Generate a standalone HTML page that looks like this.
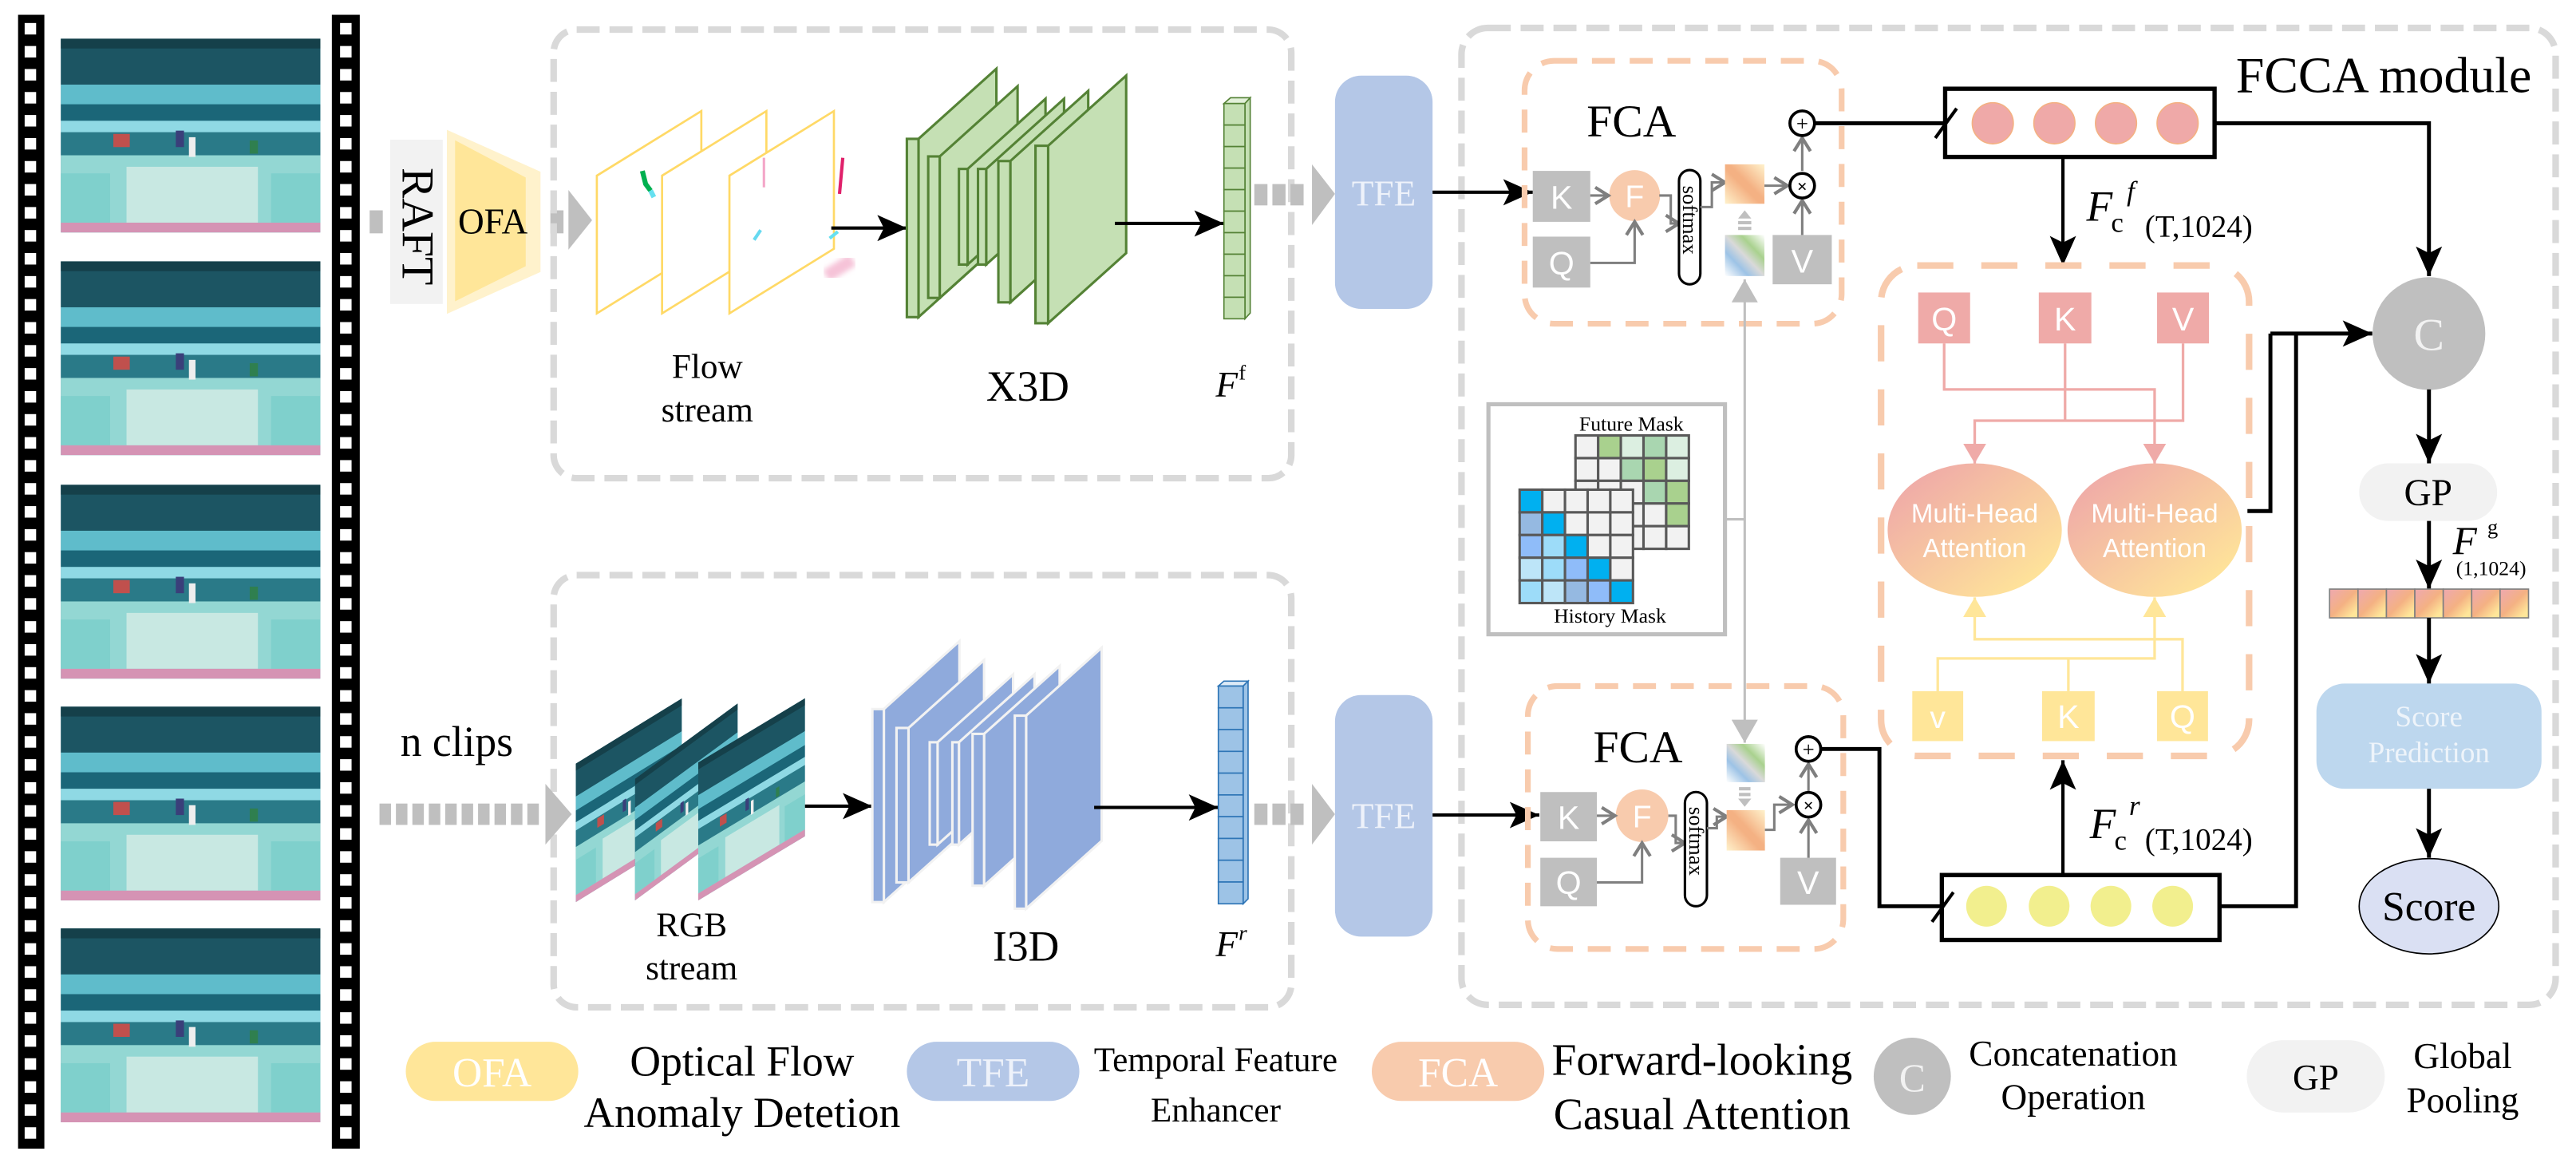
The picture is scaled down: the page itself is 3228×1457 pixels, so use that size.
<!DOCTYPE html>
<html><head><meta charset="utf-8"><style>
html,body{margin:0;padding:0;background:#fff;}
svg{display:block;}
</style></head><body>
<svg width="3228" height="1457" viewBox="0 0 1568 707.75" preserveAspectRatio="none" xmlns="http://www.w3.org/2000/svg" font-family="'Liberation Serif', 'DejaVu Serif', serif">
<defs>
<marker id="ab" markerUnits="userSpaceOnUse" markerWidth="20" markerHeight="20" viewBox="0 0 20 20" refX="18" refY="10" orient="auto"><path d="M0,2 L18,10 L0,18 L4,10 Z" fill="#000"/></marker>
<marker id="ag" markerUnits="userSpaceOnUse" markerWidth="12" markerHeight="12" viewBox="0 0 12 12" refX="10" refY="6" orient="auto"><path d="M2,1 L10,6 L2,11" fill="none" stroke="#7f7f7f" stroke-width="2"/></marker>
<marker id="alg" markerUnits="userSpaceOnUse" markerWidth="16" markerHeight="16" viewBox="0 0 16 16" refX="14" refY="8" orient="auto"><path d="M0,0 L14,8 L0,16 Z" fill="#bfbfbf"/></marker>
<marker id="ap" markerUnits="userSpaceOnUse" markerWidth="14" markerHeight="14" viewBox="0 0 14 14" refX="12" refY="7" orient="auto"><path d="M0,0 L12,7 L0,14 L0,0" fill="#efaaa8"/></marker>
<marker id="ay" markerUnits="userSpaceOnUse" markerWidth="14" markerHeight="14" viewBox="0 0 14 14" refX="12" refY="7" orient="auto"><path d="M0,0 L12,7 L0,14 Z" fill="#ffe699"/></marker>
<linearGradient id="mha" x1="0" y1="0" x2="1" y2="1"><stop offset="0.1" stop-color="#efa9a8"/><stop offset="0.9" stop-color="#ffe699"/></linearGradient>
<linearGradient id="cell" x1="0" y1="0" x2="1" y2="1"><stop offset="0.1" stop-color="#efaaa8"/><stop offset="0.5" stop-color="#f4b183"/><stop offset="0.85" stop-color="#ffe699"/></linearGradient>
<linearGradient id="osq" x1="1" y1="0" x2="0" y2="1"><stop offset="0" stop-color="#fff2cc"/><stop offset="0.45" stop-color="#f4b183"/><stop offset="0.55" stop-color="#f4b183"/><stop offset="1" stop-color="#fff2cc"/></linearGradient>
<linearGradient id="gsq" x1="1" y1="0" x2="0" y2="1"><stop offset="0" stop-color="#fff"/><stop offset="0.3" stop-color="#a9d18e"/><stop offset="0.5" stop-color="#d9d9d9"/><stop offset="0.7" stop-color="#9dc3e6"/><stop offset="1" stop-color="#fff"/></linearGradient>
<filter id="blur"><feGaussianBlur stdDeviation="1.5"/></filter>
<symbol id="photo" viewBox="0 0 158 118" preserveAspectRatio="none">
<rect width="158" height="118" fill="#2b7d8c"/>
<rect width="158" height="28" fill="#1c5563"/>
<rect y="0" width="158" height="6" fill="#15404a"/>
<rect y="28" width="158" height="12" fill="#5fbccb"/>
<rect y="40" width="158" height="10" fill="#1b6678"/>
<rect y="50" width="158" height="7" fill="#8fd9e4"/>
<rect y="57" width="158" height="14" fill="#2a7a88"/>
<rect y="71" width="158" height="47" fill="#93d7d3"/>
<rect x="40" y="78" width="80" height="34" fill="#c8e8e2"/>
<rect x="0" y="82" width="30" height="30" fill="#7fd0cc"/>
<rect x="128" y="82" width="30" height="30" fill="#7fd0cc"/>
<rect y="112" width="158" height="6" fill="#d593b4"/>
<rect x="32" y="58" width="10" height="8" fill="#c0504d"/>
<rect x="70" y="56" width="5" height="10" fill="#3a3f7a"/>
<rect x="78" y="60" width="4" height="12" fill="#eee"/>
<rect x="115" y="62" width="5" height="8" fill="#2f7f4f"/>
</symbol>
</defs>

<!-- film strips -->
<rect x="11" y="9" width="16" height="690" fill="#000"/>
<rect x="202" y="9" width="17" height="690" fill="#000"/>
<g fill="#fff">
<rect x="15" y="14" width="7" height="7"/><rect x="15" y="28" width="7" height="7"/><rect x="15" y="42" width="7" height="7"/><rect x="15" y="56" width="7" height="7"/><rect x="15" y="70" width="7" height="7"/><rect x="15" y="84" width="7" height="7"/><rect x="15" y="98" width="7" height="7"/><rect x="15" y="112" width="7" height="7"/><rect x="15" y="126" width="7" height="7"/><rect x="15" y="140" width="7" height="7"/><rect x="15" y="154" width="7" height="7"/><rect x="15" y="168" width="7" height="7"/><rect x="15" y="182" width="7" height="7"/><rect x="15" y="196" width="7" height="7"/><rect x="15" y="210" width="7" height="7"/><rect x="15" y="224" width="7" height="7"/><rect x="15" y="238" width="7" height="7"/><rect x="15" y="252" width="7" height="7"/><rect x="15" y="266" width="7" height="7"/><rect x="15" y="280" width="7" height="7"/><rect x="15" y="294" width="7" height="7"/><rect x="15" y="308" width="7" height="7"/><rect x="15" y="322" width="7" height="7"/><rect x="15" y="336" width="7" height="7"/><rect x="15" y="350" width="7" height="7"/><rect x="15" y="364" width="7" height="7"/><rect x="15" y="378" width="7" height="7"/><rect x="15" y="392" width="7" height="7"/><rect x="15" y="406" width="7" height="7"/><rect x="15" y="420" width="7" height="7"/><rect x="15" y="434" width="7" height="7"/><rect x="15" y="448" width="7" height="7"/><rect x="15" y="462" width="7" height="7"/><rect x="15" y="476" width="7" height="7"/><rect x="15" y="490" width="7" height="7"/><rect x="15" y="504" width="7" height="7"/><rect x="15" y="518" width="7" height="7"/><rect x="15" y="532" width="7" height="7"/><rect x="15" y="546" width="7" height="7"/><rect x="15" y="560" width="7" height="7"/><rect x="15" y="574" width="7" height="7"/><rect x="15" y="588" width="7" height="7"/><rect x="15" y="602" width="7" height="7"/><rect x="15" y="616" width="7" height="7"/><rect x="15" y="630" width="7" height="7"/><rect x="15" y="644" width="7" height="7"/><rect x="15" y="658" width="7" height="7"/><rect x="15" y="672" width="7" height="7"/><rect x="15" y="686" width="7" height="7"/>
</g>
<g fill="#fff">
<rect x="207" y="14" width="7" height="7"/><rect x="207" y="28" width="7" height="7"/><rect x="207" y="42" width="7" height="7"/><rect x="207" y="56" width="7" height="7"/><rect x="207" y="70" width="7" height="7"/><rect x="207" y="84" width="7" height="7"/><rect x="207" y="98" width="7" height="7"/><rect x="207" y="112" width="7" height="7"/><rect x="207" y="126" width="7" height="7"/><rect x="207" y="140" width="7" height="7"/><rect x="207" y="154" width="7" height="7"/><rect x="207" y="168" width="7" height="7"/><rect x="207" y="182" width="7" height="7"/><rect x="207" y="196" width="7" height="7"/><rect x="207" y="210" width="7" height="7"/><rect x="207" y="224" width="7" height="7"/><rect x="207" y="238" width="7" height="7"/><rect x="207" y="252" width="7" height="7"/><rect x="207" y="266" width="7" height="7"/><rect x="207" y="280" width="7" height="7"/><rect x="207" y="294" width="7" height="7"/><rect x="207" y="308" width="7" height="7"/><rect x="207" y="322" width="7" height="7"/><rect x="207" y="336" width="7" height="7"/><rect x="207" y="350" width="7" height="7"/><rect x="207" y="364" width="7" height="7"/><rect x="207" y="378" width="7" height="7"/><rect x="207" y="392" width="7" height="7"/><rect x="207" y="406" width="7" height="7"/><rect x="207" y="420" width="7" height="7"/><rect x="207" y="434" width="7" height="7"/><rect x="207" y="448" width="7" height="7"/><rect x="207" y="462" width="7" height="7"/><rect x="207" y="476" width="7" height="7"/><rect x="207" y="490" width="7" height="7"/><rect x="207" y="504" width="7" height="7"/><rect x="207" y="518" width="7" height="7"/><rect x="207" y="532" width="7" height="7"/><rect x="207" y="546" width="7" height="7"/><rect x="207" y="560" width="7" height="7"/><rect x="207" y="574" width="7" height="7"/><rect x="207" y="588" width="7" height="7"/><rect x="207" y="602" width="7" height="7"/><rect x="207" y="616" width="7" height="7"/><rect x="207" y="630" width="7" height="7"/><rect x="207" y="644" width="7" height="7"/><rect x="207" y="658" width="7" height="7"/><rect x="207" y="672" width="7" height="7"/><rect x="207" y="686" width="7" height="7"/>
</g>
<use href="#photo" x="37" y="23.5" width="158" height="118"/>
<use href="#photo" x="37" y="159" width="158" height="118"/>
<use href="#photo" x="37" y="295" width="158" height="118"/>
<use href="#photo" x="37" y="430" width="158" height="118"/>
<use href="#photo" x="37" y="565" width="158" height="118"/>

<!-- RAFT / OFA -->
<rect x="225" y="128" width="8" height="14" fill="#bfbfbf"/>
<rect x="237.5" y="85" width="32" height="100" fill="#f2f2f2"/>
<text font-size="28" transform="translate(245,102) rotate(90)" fill="#000">RAFT</text>
<polygon points="272,79 329,104.5 329,165.5 272,191" fill="#fff2cc"/>
<polygon points="277,85.4 320,108 320,162 277,183.4" fill="#ffe699"/>
<text x="300" y="142" font-size="22" text-anchor="middle">OFA</text>
<rect x="335" y="128" width="8" height="14" fill="#bfbfbf"/>
<polygon points="346,115.6 360.4,134 346,152" fill="#bfbfbf"/>

<!-- top/bottom dashed boxes -->
<rect x="337" y="18" width="449" height="273" rx="14" fill="none" stroke="#d9d9d9" stroke-width="4" stroke-dasharray="14 6"/>
<rect x="337" y="350" width="449" height="263" rx="14" fill="none" stroke="#d9d9d9" stroke-width="4" stroke-dasharray="14 6"/>

<!-- flow frames -->
<g fill="#fff" stroke="#ffd966" stroke-width="1.3">
<polygon points="363.3,106.9 426.9,67.6 426.9,151.4 363.3,190.7"/>
<polygon points="403,106.9 466.5,67.6 466.5,151.4 403,190.7"/>
<polygon points="444,106.9 507.6,67.6 507.6,151.4 444,190.7"/>
</g>
<path d="M391,104 l2,8 l3,4" stroke="#00b050" stroke-width="3" fill="none"/>
<path d="M396,116 l2,4" stroke="#66e0f0" stroke-width="3" fill="none"/>
<path d="M465,96 l0,18" stroke="#f4a6c8" stroke-width="1.5" fill="none"/>
<path d="M459,146 l4,-6" stroke="#66d9f0" stroke-width="2" fill="none"/>
<path d="M513,96 l-2,22" stroke="#e0206a" stroke-width="2" fill="none"/>
<path d="M505,145 l5,-4" stroke="#66e0f0" stroke-width="2" fill="none"/>
<path d="M503,168 l16,-10" stroke="#f6c3d8" stroke-width="8" fill="none" filter="url(#blur)"/>
<line x1="506" y1="138.8" x2="552" y2="138.8" stroke="#000" stroke-width="2" marker-end="url(#ab)"/>

<!-- X3D slabs -->
<g fill="#c5e0b4" stroke="#548235" stroke-width="1.5">
<polygon points="559.1,84.5 606.5,41.8 606.5,150.3 559.1,193"/><rect x="552" y="84.5" width="7.1" height="108.5"/>
<polygon points="572,95.2 619.4,52.5 619.4,138.6 572,181.3"/><rect x="565" y="95.2" width="7" height="86.1"/>
<polygon points="589,102.8 636.4,60.1 636.4,118.3 589,161"/><rect x="583.7" y="102.8" width="5.3" height="58.2"/>
<polygon points="600.3,102.8 647.7,60.1 647.7,118.3 600.3,161"/><rect x="595.3" y="102.8" width="5" height="58.2"/>
<polygon points="615,98 662.4,55.3 662.4,141.3 615,184"/><rect x="607.7" y="98" width="7.3" height="86"/>
<polygon points="638,88.7 685.5,46 685.5,154 638,196.7"/><rect x="630.3" y="88.7" width="7.7" height="108"/>
</g>
<line x1="678.6" y1="136" x2="745" y2="136" stroke="#000" stroke-width="2" marker-end="url(#ab)"/>
<!-- Ff vector -->
<polygon points="745,63 749,59.5 761,59.5 757.8,63" fill="#e2f0d9" stroke="#548235" stroke-width="0.8"/>
<polygon points="757.8,63 761,59.5 761,190.5 757.8,194" fill="#c5e0b4" stroke="#548235" stroke-width="0.8"/>
<g fill="#c5e0b4" stroke="#548235" stroke-width="0.8">
<rect x="745" y="63" width="12.8" height="13.1"/><rect x="745" y="76.1" width="12.8" height="13.1"/><rect x="745" y="89.2" width="12.8" height="13.1"/><rect x="745" y="102.3" width="12.8" height="13.1"/><rect x="745" y="115.4" width="12.8" height="13.1"/><rect x="745" y="128.5" width="12.8" height="13.1"/><rect x="745" y="141.6" width="12.8" height="13.1"/><rect x="745" y="154.7" width="12.8" height="13.1"/><rect x="745" y="167.8" width="12.8" height="13.1"/><rect x="745" y="180.9" width="12.8" height="13.1"/>
</g>
<text x="430.5" y="230" font-size="21" text-anchor="middle">Flow</text>
<text x="430.5" y="256.4" font-size="21" text-anchor="middle">stream</text>
<text x="625.6" y="243.8" font-size="26" text-anchor="middle">X3D</text>
<text x="740" y="241.5" font-size="22" font-style="italic">F</text><text x="754" y="231" font-size="13">f</text>

<!-- gray dashed arrows to TFE -->
<g fill="#bfbfbf">
<rect x="763.5" y="112" width="8" height="13"/><rect x="774.5" y="112" width="8" height="13"/><rect x="785.5" y="112" width="8" height="13"/>
<polygon points="798.6,100 812.6,118 798.6,137"/>
<rect x="763.5" y="489" width="8" height="13"/><rect x="774.5" y="489" width="8" height="13"/><rect x="785.5" y="489" width="8" height="13"/>
<polygon points="798.6,477 812.6,495.5 798.6,514"/>
</g>
<rect x="812.6" y="46" width="59.4" height="142" rx="16" fill="#b4c7e7"/>
<text x="842.3" y="125" font-size="22" fill="#eef2fa" text-anchor="middle">TFE</text>
<rect x="812.6" y="423" width="59.4" height="147" rx="16" fill="#b4c7e7"/>
<text x="842.3" y="504" font-size="22" fill="#eef2fa" text-anchor="middle">TFE</text>

<!-- bottom stream -->
<text x="278" y="460" font-size="26" text-anchor="middle">n clips</text>
<g fill="#bfbfbf">
<rect x="231" y="489" width="7" height="13"/><rect x="241" y="489" width="7" height="13"/><rect x="251" y="489" width="7" height="13"/><rect x="261" y="489" width="7" height="13"/><rect x="271" y="489" width="7" height="13"/><rect x="281" y="489" width="7" height="13"/><rect x="291" y="489" width="7" height="13"/><rect x="301" y="489" width="7" height="13"/><rect x="311" y="489" width="7" height="13"/><rect x="321" y="489" width="7" height="13"/>
<polygon points="332,477 348,495.5 332,514"/>
</g>
<use href="#photo" width="64.5" height="84.3" transform="translate(350.5,464.7) skewY(-31.6)"/>
<use href="#photo" width="62.5" height="74" transform="translate(386.5,474) skewY(-36.3)"/>
<use href="#photo" width="65" height="84" transform="translate(425,464) skewY(-31)"/>
<line x1="490" y1="490.6" x2="531" y2="490.6" stroke="#000" stroke-width="2" marker-end="url(#ab)"/>
<!-- I3D slabs -->
<g fill="#8faadc" stroke="#f2f2f2" stroke-width="1.5">
<polygon points="538,431.5 584,390.2 584,507.7 538,549"/><rect x="531" y="431.5" width="7" height="117.5"/>
<polygon points="553,443 599,401.7 599,495.7 553,537"/><rect x="545.7" y="443" width="7.3" height="94"/>
<polygon points="570.7,451.7 616.7,410.4 616.7,472.7 570.7,514"/><rect x="565.9" y="451.7" width="4.8" height="62.3"/>
<polygon points="583.7,451.7 629.7,410.4 629.7,472.7 583.7,514"/><rect x="579.7" y="451.7" width="4" height="62.3"/>
<polygon points="599,446.6 645,405.3 645,497.7 599,539"/><rect x="592" y="446.6" width="7" height="92.4"/>
<polygon points="624.6,435.5 670.6,394.2 670.6,511.7 624.6,553"/><rect x="617.7" y="435.5" width="6.9" height="117.5"/>
</g>
<line x1="666" y1="491.4" x2="741.6" y2="491.4" stroke="#000" stroke-width="2" marker-end="url(#ab)"/>
<polygon points="741.6,417.5 745,414.5 759.7,414.5 756.7,417.5" fill="#deebf7" stroke="#2e75b6" stroke-width="0.8"/>
<polygon points="756.7,417.5 759.7,414.5 759.7,547 756.7,550" fill="#9dc3e6" stroke="#2e75b6" stroke-width="0.8"/>
<g fill="#9dc3e6" stroke="#2e75b6" stroke-width="0.8">
<rect x="741.6" y="417.5" width="15.1" height="13.25"/><rect x="741.6" y="430.75" width="15.1" height="13.25"/><rect x="741.6" y="444" width="15.1" height="13.25"/><rect x="741.6" y="457.25" width="15.1" height="13.25"/><rect x="741.6" y="470.5" width="15.1" height="13.25"/><rect x="741.6" y="483.75" width="15.1" height="13.25"/><rect x="741.6" y="497" width="15.1" height="13.25"/><rect x="741.6" y="510.25" width="15.1" height="13.25"/><rect x="741.6" y="523.5" width="15.1" height="13.25"/><rect x="741.6" y="536.75" width="15.1" height="13.25"/>
</g>
<text x="421" y="569.7" font-size="21" text-anchor="middle">RGB</text>
<text x="421" y="596" font-size="21" text-anchor="middle">stream</text>
<text x="624.5" y="584.6" font-size="26" text-anchor="middle">I3D</text>
<text x="740" y="582" font-size="22" font-style="italic">F</text><text x="754" y="572" font-size="13" font-style="italic">r</text>

<!-- FCCA outer -->
<rect x="889.6" y="17" width="666" height="594.5" rx="16" fill="none" stroke="#d9d9d9" stroke-width="4" stroke-dasharray="14 6"/>
<text x="1451" y="56" font-size="31" text-anchor="middle">FCCA module</text>

<line x1="872" y1="117" x2="933" y2="117" stroke="#000" stroke-width="2" marker-end="url(#ab)"/>
<line x1="872" y1="496" x2="937" y2="496" stroke="#000" stroke-width="2" marker-end="url(#ab)"/>

<!-- Upper FCA -->
<rect x="928" y="37" width="193" height="160" rx="18" fill="none" stroke="#f8cbad" stroke-width="3.5" stroke-dasharray="14 9"/>
<text x="993" y="83" font-size="28" text-anchor="middle">FCA</text>
<g font-family="'Liberation Sans', 'DejaVu Sans', sans-serif">
<rect x="933" y="104" width="35" height="31" fill="#bfbfbf"/><text x="950.5" y="127" font-size="20" fill="#fff" text-anchor="middle">K</text>
<rect x="933" y="144" width="35" height="31" fill="#bfbfbf"/><text x="950.5" y="167" font-size="20" fill="#fff" text-anchor="middle">Q</text>
<circle cx="995" cy="119" r="15.5" fill="#f8cbad"/><text x="995" y="126" font-size="19" fill="#fff" text-anchor="middle">F</text>
<rect x="1079" y="143" width="36" height="30" fill="#bfbfbf"/><text x="1097" y="166" font-size="20" fill="#fff" text-anchor="middle">V</text>
</g>
<line x1="968" y1="119" x2="979" y2="119" stroke="#7f7f7f" stroke-width="1.5" marker-end="url(#ag)"/>
<polyline points="968,160 995,160 995,135" fill="none" stroke="#7f7f7f" stroke-width="1.5" marker-end="url(#ag)"/>
<polyline points="1010,119 1017,119 1017,136 1022,136" fill="none" stroke="#7f7f7f" stroke-width="1.5" marker-end="url(#ag)"/>
<rect x="1022" y="103.5" width="13" height="69.5" rx="6.5" fill="#fff" stroke="#000" stroke-width="1.5"/>
<text font-size="13" transform="translate(1024.5,113) rotate(90)">softmax</text>
<polyline points="1035,126 1042,126 1042,111 1050,111" fill="none" stroke="#7f7f7f" stroke-width="1.5" marker-end="url(#ag)"/>
<rect x="1050" y="100" width="24" height="24" fill="url(#osq)"/>
<rect x="1050" y="143" width="24" height="25" fill="url(#gsq)"/>
<polygon points="1062,128 1066,133 1058,133" fill="#bfbfbf"/><rect x="1058" y="134.5" width="8" height="2" fill="#bfbfbf"/><rect x="1058" y="138" width="8" height="2" fill="#bfbfbf"/>
<line x1="1074" y1="113" x2="1088" y2="113" stroke="#7f7f7f" stroke-width="1.5" marker-end="url(#ag)"/>
<line x1="1097" y1="143" x2="1097" y2="122" stroke="#7f7f7f" stroke-width="1.5" marker-end="url(#ag)"/>
<line x1="1097" y1="104" x2="1097" y2="84" stroke="#7f7f7f" stroke-width="1.5" marker-end="url(#ag)"/>
<circle cx="1097" cy="113" r="7.5" fill="#fff" stroke="#000" stroke-width="1.8"/><text x="1097" y="117" font-size="11" font-weight="bold" text-anchor="middle">×</text>
<circle cx="1097" cy="75" r="7.5" fill="#fff" stroke="#000" stroke-width="1.8"/><text x="1097" y="79.5" font-size="13" text-anchor="middle">+</text>

<!-- mask -->
<rect x="906" y="246" width="144" height="140" fill="#fff" stroke="#bfbfbf" stroke-width="2.5"/>
<text x="993" y="262" font-size="12.5" text-anchor="middle">Future Mask</text>
<g stroke="#595959" stroke-width="1.5">
<rect x="959" y="265" width="13.8" height="13.8" fill="#f2f2f2"/><rect x="972.8" y="265" width="13.8" height="13.8" fill="#a9d18e"/><rect x="986.6" y="265" width="13.8" height="13.8" fill="#dcefe1"/><rect x="1000.4" y="265" width="13.8" height="13.8" fill="#a9d6b0"/><rect x="1014.2" y="265" width="13.8" height="13.8" fill="#dcefe1"/>
<rect x="959" y="278.8" width="13.8" height="13.8" fill="#f2f2f2"/><rect x="972.8" y="278.8" width="13.8" height="13.8" fill="#f2f2f2"/><rect x="986.6" y="278.8" width="13.8" height="13.8" fill="#a9d6b0"/><rect x="1000.4" y="278.8" width="13.8" height="13.8" fill="#a9d18e"/><rect x="1014.2" y="278.8" width="13.8" height="13.8" fill="#dcefe1"/>
<rect x="959" y="292.6" width="13.8" height="13.8" fill="#f2f2f2"/><rect x="972.8" y="292.6" width="13.8" height="13.8" fill="#f2f2f2"/><rect x="986.6" y="292.6" width="13.8" height="13.8" fill="#f2f2f2"/><rect x="1000.4" y="292.6" width="13.8" height="13.8" fill="#a9d6b0"/><rect x="1014.2" y="292.6" width="13.8" height="13.8" fill="#a9d18e"/>
<rect x="959" y="306.4" width="13.8" height="13.8" fill="#f2f2f2"/><rect x="972.8" y="306.4" width="13.8" height="13.8" fill="#f2f2f2"/><rect x="986.6" y="306.4" width="13.8" height="13.8" fill="#f2f2f2"/><rect x="1000.4" y="306.4" width="13.8" height="13.8" fill="#f2f2f2"/><rect x="1014.2" y="306.4" width="13.8" height="13.8" fill="#a9d18e"/>
<rect x="959" y="320.2" width="13.8" height="13.8" fill="#f2f2f2"/><rect x="972.8" y="320.2" width="13.8" height="13.8" fill="#f2f2f2"/><rect x="986.6" y="320.2" width="13.8" height="13.8" fill="#f2f2f2"/><rect x="1000.4" y="320.2" width="13.8" height="13.8" fill="#f2f2f2"/><rect x="1014.2" y="320.2" width="13.8" height="13.8" fill="#f2f2f2"/>
<rect x="925" y="298" width="13.8" height="13.8" fill="#00b0f0"/><rect x="938.8" y="298" width="13.8" height="13.8" fill="#f2f2f2"/><rect x="952.6" y="298" width="13.8" height="13.8" fill="#f2f2f2"/><rect x="966.4" y="298" width="13.8" height="13.8" fill="#f2f2f2"/><rect x="980.2" y="298" width="13.8" height="13.8" fill="#f2f2f2"/>
<rect x="925" y="311.8" width="13.8" height="13.8" fill="#95b9e1"/><rect x="938.8" y="311.8" width="13.8" height="13.8" fill="#00b0f0"/><rect x="952.6" y="311.8" width="13.8" height="13.8" fill="#f2f2f2"/><rect x="966.4" y="311.8" width="13.8" height="13.8" fill="#f2f2f2"/><rect x="980.2" y="311.8" width="13.8" height="13.8" fill="#f2f2f2"/>
<rect x="925" y="325.6" width="13.8" height="13.8" fill="#8fbcf9"/><rect x="938.8" y="325.6" width="13.8" height="13.8" fill="#9ddcf9"/><rect x="952.6" y="325.6" width="13.8" height="13.8" fill="#00b0f0"/><rect x="966.4" y="325.6" width="13.8" height="13.8" fill="#f2f2f2"/><rect x="980.2" y="325.6" width="13.8" height="13.8" fill="#f2f2f2"/>
<rect x="925" y="339.4" width="13.8" height="13.8" fill="#bde5f8"/><rect x="938.8" y="339.4" width="13.8" height="13.8" fill="#9ddcf9"/><rect x="952.6" y="339.4" width="13.8" height="13.8" fill="#8fbcf9"/><rect x="966.4" y="339.4" width="13.8" height="13.8" fill="#00b0f0"/><rect x="980.2" y="339.4" width="13.8" height="13.8" fill="#f2f2f2"/>
<rect x="925" y="353.2" width="13.8" height="13.8" fill="#9ddcf9"/><rect x="938.8" y="353.2" width="13.8" height="13.8" fill="#bde5f8"/><rect x="952.6" y="353.2" width="13.8" height="13.8" fill="#95b9e1"/><rect x="966.4" y="353.2" width="13.8" height="13.8" fill="#8fbcf9"/><rect x="980.2" y="353.2" width="13.8" height="13.8" fill="#00b0f0"/>
</g>
<text x="980" y="379" font-size="12.5" text-anchor="middle">History Mask</text>
<line x1="1050" y1="316" x2="1062" y2="316" stroke="#bfbfbf" stroke-width="1.5"/>
<line x1="1062" y1="316" x2="1062" y2="170" stroke="#bfbfbf" stroke-width="1.5" marker-end="url(#alg)"/>
<line x1="1062" y1="316" x2="1062" y2="452" stroke="#bfbfbf" stroke-width="1.5" marker-end="url(#alg)"/>

<!-- Lower FCA -->
<rect x="930" y="417.5" width="192" height="160" rx="18" fill="none" stroke="#f8cbad" stroke-width="3.5" stroke-dasharray="14 9"/>
<text x="997" y="464" font-size="28" text-anchor="middle">FCA</text>
<g font-family="'Liberation Sans', 'DejaVu Sans', sans-serif">
<rect x="937.6" y="482" width="34.4" height="30" fill="#bfbfbf"/><text x="954.8" y="504.5" font-size="20" fill="#fff" text-anchor="middle">K</text>
<rect x="937.6" y="522" width="34.4" height="29.5" fill="#bfbfbf"/><text x="954.8" y="544" font-size="20" fill="#fff" text-anchor="middle">Q</text>
<circle cx="999.5" cy="496.4" r="16" fill="#f8cbad"/><text x="999.5" y="503.5" font-size="19" fill="#fff" text-anchor="middle">F</text>
<rect x="1083.6" y="522" width="34" height="28.6" fill="#bfbfbf"/><text x="1100.6" y="544" font-size="20" fill="#fff" text-anchor="middle">V</text>
</g>
<line x1="972" y1="496.4" x2="983" y2="496.4" stroke="#7f7f7f" stroke-width="1.5" marker-end="url(#ag)"/>
<polyline points="972,537 999.5,537 999.5,513" fill="none" stroke="#7f7f7f" stroke-width="1.5" marker-end="url(#ag)"/>
<polyline points="1015.5,496.4 1020,496.4 1020,513 1025.6,513" fill="none" stroke="#7f7f7f" stroke-width="1.5" marker-end="url(#ag)"/>
<rect x="1025.6" y="482" width="13.4" height="69.5" rx="6.7" fill="#fff" stroke="#000" stroke-width="1.5"/>
<text font-size="13" transform="translate(1028.3,491) rotate(90)">softmax</text>
<polyline points="1039,504 1045,504 1045,497 1051,497" fill="none" stroke="#7f7f7f" stroke-width="1.5" marker-end="url(#ag)"/>
<rect x="1051" y="452.7" width="23.3" height="23.3" fill="url(#gsq)"/>
<rect x="1051" y="493" width="23.3" height="24.6" fill="url(#osq)"/>
<rect x="1058.5" y="479" width="7" height="2" fill="#bfbfbf"/><rect x="1058.5" y="482.5" width="7" height="2" fill="#bfbfbf"/><polygon points="1058,486 1066,486 1062,491" fill="#bfbfbf"/>
<polyline points="1074.3,505 1080,505 1080,489.7 1091,489.7" fill="none" stroke="#7f7f7f" stroke-width="1.5" marker-end="url(#ag)"/>
<line x1="1100.8" y1="522" x2="1100.8" y2="499" stroke="#7f7f7f" stroke-width="1.5" marker-end="url(#ag)"/>
<line x1="1100.8" y1="482" x2="1100.8" y2="465" stroke="#7f7f7f" stroke-width="1.5" marker-end="url(#ag)"/>
<circle cx="1100.8" cy="489.7" r="7.5" fill="#fff" stroke="#000" stroke-width="1.8"/><text x="1100.8" y="493.7" font-size="11" font-weight="bold" text-anchor="middle">×</text>
<circle cx="1100.8" cy="455.8" r="7.5" fill="#fff" stroke="#000" stroke-width="1.8"/><text x="1100.8" y="460.3" font-size="13" text-anchor="middle">+</text>

<!-- upper feature box -->
<line x1="1104.5" y1="75" x2="1184" y2="75" stroke="#000" stroke-width="2.4"/>
<rect x="1184" y="54" width="164" height="41.5" fill="#fff" stroke="#000" stroke-width="2.6"/>
<line x1="1178" y1="84" x2="1191" y2="66" stroke="#000" stroke-width="2"/>
<g fill="#efa9a8" stroke="#f4b183" stroke-width="0.8">
<circle cx="1213" cy="75" r="12.5"/><circle cx="1250.5" cy="75" r="12.5"/><circle cx="1288" cy="75" r="12.5"/><circle cx="1325.5" cy="75" r="12.5"/>
</g>
<line x1="1255.7" y1="95.5" x2="1255.7" y2="161.6" stroke="#000" stroke-width="2" marker-end="url(#ab)"/>
<text x="1270" y="134.4" font-size="26" font-style="italic">F</text>
<text x="1285" y="141" font-size="17">c</text>
<text x="1294.6" y="122" font-size="17" font-style="italic">f</text>
<text x="1305.6" y="144" font-size="19">(T,1024)</text>
<polyline points="1348,75 1478.5,75 1478.5,168" fill="none" stroke="#000" stroke-width="2.4" marker-end="url(#ab)"/>

<!-- inner FCCA box -->
<rect x="1145" y="161.6" width="224" height="298.4" rx="22" fill="none" stroke="#f8cbad" stroke-width="4" stroke-dasharray="22 17"/>
<g font-family="'Liberation Sans', 'DejaVu Sans', sans-serif">
<rect x="1167.6" y="178" width="31.6" height="31" fill="#efaaa8"/><text x="1183.4" y="201" font-size="20" fill="#fff" text-anchor="middle">Q</text>
<rect x="1241" y="178" width="32" height="31" fill="#efaaa8"/><text x="1257" y="201" font-size="20" fill="#fff" text-anchor="middle">K</text>
<rect x="1313" y="178" width="31.6" height="31" fill="#efaaa8"/><text x="1328.8" y="201" font-size="20" fill="#fff" text-anchor="middle">V</text>
</g>
<g fill="none" stroke="#efaaa8" stroke-width="1.6">
<polyline points="1183.4,209 1183.4,237 1311.5,237 1311.5,281"/>
<line x1="1257" y1="209" x2="1257" y2="256"/>
<polyline points="1328.8,209 1328.8,256 1202,256 1202,281"/>
</g>
<line x1="1202" y1="270" x2="1202" y2="282" stroke="#efaaa8" stroke-width="1.6" marker-end="url(#ap)"/>
<line x1="1311.5" y1="270" x2="1311.5" y2="282" stroke="#efaaa8" stroke-width="1.6" marker-end="url(#ap)"/>
<ellipse cx="1202" cy="322.6" rx="53" ry="40.6" fill="url(#mha)"/>
<ellipse cx="1311.5" cy="322.6" rx="53" ry="40.6" fill="url(#mha)"/>
<g font-family="'Liberation Sans', 'DejaVu Sans', sans-serif" font-size="16" fill="#fff" text-anchor="middle">
<text x="1202" y="318">Multi-Head</text><text x="1202" y="339">Attention</text>
<text x="1311.5" y="318">Multi-Head</text><text x="1311.5" y="339">Attention</text>
</g>
<g font-family="'Liberation Sans', 'DejaVu Sans', sans-serif">
<rect x="1164" y="420.6" width="31" height="30.4" fill="#ffe699"/><text x="1179.5" y="443" font-size="19" fill="#fff" text-anchor="middle">v</text>
<rect x="1243" y="420.6" width="32" height="30.4" fill="#ffe699"/><text x="1259" y="443" font-size="20" fill="#fff" text-anchor="middle">K</text>
<rect x="1313" y="420.6" width="31" height="30.4" fill="#ffe699"/><text x="1328.5" y="443" font-size="20" fill="#fff" text-anchor="middle">Q</text>
</g>
<g fill="none" stroke="#ffe699" stroke-width="1.6">
<polyline points="1179.5,420.6 1179.5,400.7 1311.5,400.7 1311.5,365"/>
<line x1="1259" y1="420.6" x2="1259" y2="400.7"/>
<polyline points="1328.5,420.6 1328.5,389 1202,389 1202,365"/>
</g>
<line x1="1202" y1="376" x2="1202" y2="363.5" stroke="#ffe699" stroke-width="1.6" marker-end="url(#ay)"/>
<line x1="1311.5" y1="376" x2="1311.5" y2="363.5" stroke="#ffe699" stroke-width="1.6" marker-end="url(#ay)"/>

<!-- lower feature box -->
<polyline points="1108.3,455.8 1144,455.8 1144,551.5 1182,551.5" fill="none" stroke="#000" stroke-width="2.4"/>
<rect x="1182" y="532.5" width="169" height="39.5" fill="#fff" stroke="#000" stroke-width="2.6"/>
<line x1="1176" y1="561" x2="1189" y2="543" stroke="#000" stroke-width="2"/>
<g fill="#f2ef8e">
<circle cx="1209.2" cy="551.5" r="12.4"/><circle cx="1247.3" cy="551.5" r="12.4"/><circle cx="1284.9" cy="551.5" r="12.4"/><circle cx="1322.5" cy="551.5" r="12.4"/>
</g>
<line x1="1255.7" y1="532.5" x2="1255.7" y2="462.6" stroke="#000" stroke-width="2" marker-end="url(#ab)"/>
<text x="1272" y="510" font-size="26" font-style="italic">F</text>
<text x="1287" y="517" font-size="17">c</text>
<text x="1296" y="496" font-size="17" font-style="italic">r</text>
<text x="1305.6" y="517" font-size="19">(T,1024)</text>

<!-- connectors to C -->
<polyline points="1368,311 1382,311 1382,203" fill="none" stroke="#000" stroke-width="2.4"/>
<polyline points="1351,551.5 1397.6,551.5 1397.6,203" fill="none" stroke="#000" stroke-width="2.4"/>
<line x1="1382" y1="203" x2="1444" y2="203" stroke="#000" stroke-width="2.4" marker-end="url(#ab)"/>
<circle cx="1478.5" cy="203" r="34.3" fill="#bfbfbf"/>
<text x="1478.5" y="213" font-size="28" fill="#f2f2f2" text-anchor="middle">C</text>
<line x1="1478.5" y1="237" x2="1478.5" y2="282" stroke="#000" stroke-width="2.4" marker-end="url(#ab)"/>
<rect x="1436" y="282" width="84" height="35" rx="17.5" fill="#f2f2f2"/>
<text x="1478" y="307.5" font-size="23" text-anchor="middle">GP</text>
<line x1="1478.5" y1="317" x2="1478.5" y2="358.5" stroke="#000" stroke-width="2.4" marker-end="url(#ab)"/>
<text x="1493" y="337" font-size="24" font-style="italic">F</text>
<text x="1514" y="325" font-size="13">g</text>
<text x="1495" y="350" font-size="12.5">(1,1024)</text>
<g fill="url(#cell)" stroke="#7f7f7f" stroke-width="0.8">
<rect x="1418" y="358.5" width="17.3" height="17.5"/><rect x="1435.3" y="358.5" width="17.3" height="17.5"/><rect x="1452.6" y="358.5" width="17.3" height="17.5"/><rect x="1469.9" y="358.5" width="17.3" height="17.5"/><rect x="1487.2" y="358.5" width="17.3" height="17.5"/><rect x="1504.5" y="358.5" width="17.3" height="17.5"/><rect x="1521.8" y="358.5" width="17.3" height="17.5"/>
</g>
<line x1="1478.5" y1="376" x2="1478.5" y2="416" stroke="#000" stroke-width="2.4" marker-end="url(#ab)"/>
<rect x="1410" y="416" width="137" height="64" rx="17" fill="#bdd7ee"/>
<text x="1478.5" y="442" font-size="18" fill="#eef4fa" text-anchor="middle">Score</text>
<text x="1478.5" y="464" font-size="18" fill="#eef4fa" text-anchor="middle">Prediction</text>
<line x1="1478.5" y1="480" x2="1478.5" y2="522" stroke="#000" stroke-width="2.4" marker-end="url(#ab)"/>
<ellipse cx="1478.5" cy="551.5" rx="42.5" ry="29" fill="#dae0f3" stroke="#000" stroke-width="0.8"/>
<text x="1478.5" y="560" font-size="25" text-anchor="middle">Score</text>

<!-- Legend -->
<rect x="247" y="634" width="105" height="36" rx="18" fill="#ffe699"/>
<text x="299.5" y="661" font-size="25" fill="#fff" text-anchor="middle">OFA</text>
<text x="451.7" y="654.5" font-size="26" text-anchor="middle">Optical Flow</text>
<text x="451.7" y="686" font-size="26" text-anchor="middle">Anomaly Detetion</text>
<rect x="552" y="634" width="105" height="36" rx="18" fill="#b4c7e7"/>
<text x="604.5" y="661" font-size="25" fill="#eef2fa" text-anchor="middle">TFE</text>
<text x="740" y="652" font-size="21" text-anchor="middle">Temporal Feature</text>
<text x="740" y="682.5" font-size="21" text-anchor="middle">Enhancer</text>
<rect x="835" y="634" width="105" height="36" rx="18" fill="#f8cbad"/>
<text x="887.5" y="661" font-size="25" fill="#fff" text-anchor="middle">FCA</text>
<text x="1036" y="654" font-size="27" text-anchor="middle">Forward-looking</text>
<text x="1036" y="687" font-size="27" text-anchor="middle">Casual Attention</text>
<circle cx="1164" cy="655" r="23.5" fill="#bfbfbf"/>
<text x="1164" y="664" font-size="24" fill="#f2f2f2" text-anchor="middle">C</text>
<text x="1262" y="648.5" font-size="22" text-anchor="middle">Concatenation</text>
<text x="1262" y="675" font-size="22" text-anchor="middle">Operation</text>
<rect x="1367.6" y="633" width="84" height="44" rx="22" fill="#f2f2f2"/>
<text x="1409.6" y="663" font-size="22" text-anchor="middle">GP</text>
<text x="1499" y="650" font-size="22" text-anchor="middle">Global</text>
<text x="1499" y="677" font-size="22" text-anchor="middle">Pooling</text>
</svg>
</body></html>
